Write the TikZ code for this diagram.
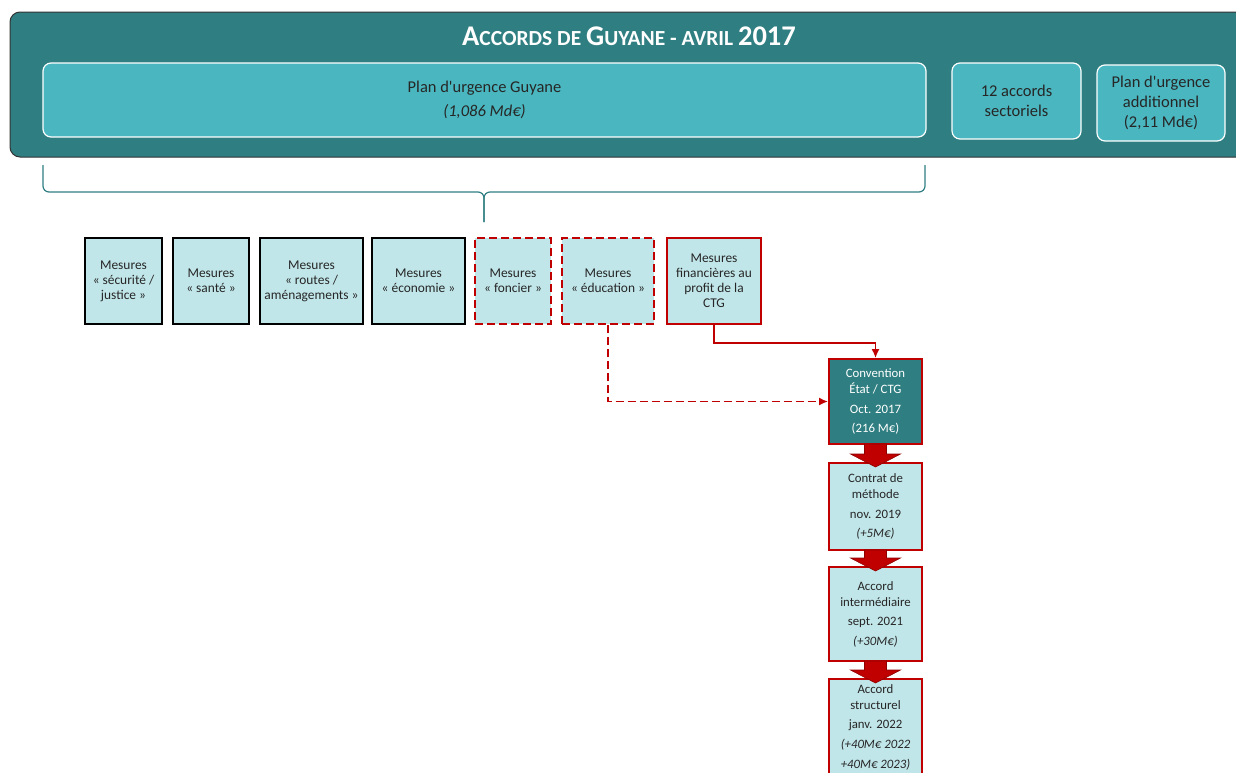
\documentclass[tikz,border=0pt]{standalone}
\usepackage{fontspec}
\setmainfont{Carlito}
\usetikzlibrary{arrows.meta,calc}
\definecolor{sarcelle}{HTML}{2F7E81}
\definecolor{turquoise}{HTML}{4AB6BF}
\definecolor{bleuclair}{HTML}{C1E6E9}
\definecolor{rouge}{HTML}{C00000}
\definecolor{rougefonce}{HTML}{8E0000}
\definecolor{texte}{HTML}{262626}

\begin{document}
\begin{tikzpicture}
  [x=1pt,y=-1pt,every node/.style={align=center,text=texte,inner sep=0pt}]
  \tikzstyle{cadre} = [draw=black!80,fill=sarcelle,rounded corners=10,line width=1pt]
  \tikzstyle{bloc} = [draw=white,fill=turquoise,rounded corners=8,line width=1.2pt,font=\fontsize{16.5}{20}\selectfont]
  \tikzstyle{mesure} = [draw=black,fill=bleuclair,line width=1.3pt,minimum height=86,font=\fontsize{13.4}{15}\selectfont]
  \tikzstyle{pointille} = [mesure,draw=rouge,dash pattern=on 8pt off 4pt,line width=2pt]
  \tikzstyle{etape} = [mesure,draw=rouge,line width=2pt,minimum width=93,font=\fontsize{12.8}{16}\selectfont]
  \tikzstyle{lien} = [draw=rouge,line width=1.5pt,-{Latex[length=9pt,width=8pt]}]
  \tikzstyle{grossefleche} = [fill=rouge,draw=rougefonce,line width=0.6pt]
  \tikzstyle{accolade} = [draw=sarcelle,line width=1.2pt,rounded corners=6]
  \useasboundingbox (0,0) rectangle (1236,772);

  % accords d'avril 2017
  \node[cadre,minimum width=1240,minimum height=145] (accords) at (630,84.5) {};
  \node[text=white,font=\bfseries] (titre) at (629,36)
    {\fontsize{28.5}{30}\selectfont A\fontsize{21.5}{24}\selectfont CCORDS DE
     \fontsize{28.5}{30}\selectfont G\fontsize{21.5}{24}\selectfont UYANE - AVRIL
     \fontsize{28.5}{30}\selectfont 2017};
  \node[bloc,minimum width=883,minimum height=74] (plan) at (484.5,100)
    {Plan d\textquotesingle urgence Guyane\\[4pt]\textit{(1,086 Md€)}};
  \node[bloc,minimum width=129,minimum height=76] (sectoriels) at (1016.5,101)
    {12 accords\\sectoriels};
  \node[bloc,minimum width=128,minimum height=76] (additionnel) at (1161,103)
    {Plan d\textquotesingle urgence\\additionnel\\(2,11 Md€)};

  \draw[accolade] (43,165) -- (43,192) -- (484,192) -- (484,222);
  \draw[accolade] (925,165) -- (925,192) -- (484,192) -- (484,222);

  % mesures du plan d'urgence
  \node[mesure,minimum width=77] (securite) at (123.5,281) {Mesures\\« sécurité /\\justice »};
  \node[mesure,minimum width=76] (sante) at (211,281) {Mesures\\« santé »};
  \node[mesure,minimum width=103] (routes) at (311.5,281) {Mesures\\« routes /\\aménagements »};
  \node[mesure,minimum width=93] (economie) at (418.5,281) {Mesures\\« économie »};
  \node[pointille,minimum width=76] (foncier) at (513,281) {Mesures\\« foncier »};
  \node[pointille,minimum width=92] (educ) at (608,281) {Mesures\\« éducation »};
  \node[mesure,draw=rouge,line width=2pt,minimum width=94] (financ) at (714,281)
    {Mesures\\financières au\\profit de la\\CTG};

  % etapes avec la CTG
  \node[etape,fill=sarcelle,text=white,minimum height=85] (conv) at (875.5,401.5)
    {Convention\\État / CTG\\[4pt]Oct. 2017\\[3pt](216 M€)};
  \node[etape,minimum height=87] (contrat) at (875.5,506.5)
    {Contrat de\\méthode\\[4pt]nov. 2019\\[3pt]\textit{(+5M€)}};
  \node[etape,minimum height=94] (inter) at (875.5,614)
    {Accord\\intermédiaire\\[3pt]sept. 2021\\[4pt]\textit{(+30M€)}};
  \node[etape,minimum height=96] (struct) at (875.5,727)
    {Accord\\structurel\\[3pt]janv. 2022\\[4pt]\textit{(+40M€ 2022}\\[4pt]\textit{+40M€ 2023)}};

  \draw[lien] (financ.south) -- ++(0,18) -| (conv.north);
  \draw[lien,dash pattern=on 8pt off 4pt] (educ.south) |- (conv.west);

\foreach \haut/\bas in {conv/contrat,contrat/inter,inter/struct}
   \draw[grossefleche] ($(\haut.south)+(-11,-1)$) -- ($(\bas.north)+(-11,-8)$)
     -- ($(\bas.north)+(-25,-8)$) -- ($(\bas.north)+(0,5)$) -- ($(\bas.north)+(25,-8)$)
     -- ($(\bas.north)+(11,-8)$) -- ($(\haut.south)+(11,-1)$) -- cycle;

\end{tikzpicture}
\end{document}
